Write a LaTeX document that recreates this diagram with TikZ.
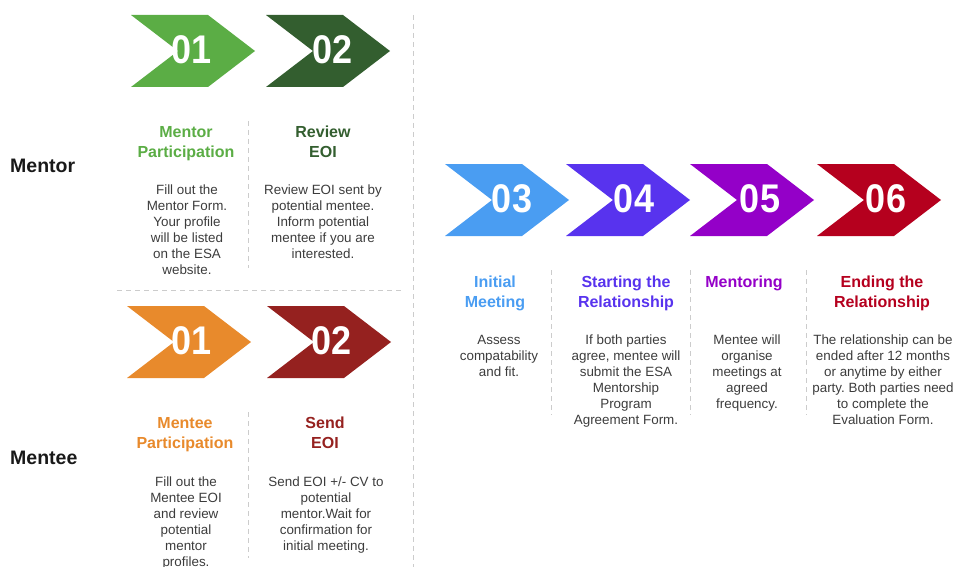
\documentclass[tikz,border=0pt]{standalone}
\usepackage{fontspec}
\setmainfont{Liberation Sans}
\newfontfamily\numfont[FakeStretch=0.9]{Liberation Sans}

\definecolor{mentorgreen}{HTML}{5BAD45}
\definecolor{reviewgreen}{HTML}{335E2F}
\definecolor{menteeorange}{HTML}{E88A2C}
\definecolor{sendred}{HTML}{95211F}
\definecolor{initialblue}{HTML}{4A9DF2}
\definecolor{startviolet}{HTML}{5833EE}
\definecolor{mentoringpurple}{HTML}{9400C8}
\definecolor{endingred}{HTML}{B5001E}
\definecolor{bodygray}{HTML}{3C3C3C}

\tikzset{
  stepnum/.style={text=white, inner sep=0pt, font=\numfont\bfseries\fontsize{40}{40}\selectfont},
  steptitle/.style={anchor=north, inner sep=0pt, align=center, font=\bfseries\fontsize{16}{20}\selectfont},
  stepbody/.style={anchor=north, inner sep=0pt, align=center, text=bodygray, font=\fontsize{13.4}{16}\selectfont},
  rolelabel/.style={anchor=west, inner sep=0pt, text=black!90, font=\bfseries\fontsize{19.5}{20}\selectfont},
  divider/.style={draw=gray!40, line width=0.9pt, dash pattern=on 5pt off 4pt}
}

\begin{document}
\frenchspacing
\begin{tikzpicture}[x=1pt, y=-1pt]

% Fix the frame to the reference size
\useasboundingbox (0,0) rectangle (958,567);

% Dashed dividers
\draw[divider] (413,15) -- (413,567);      % splits the two roles from the shared steps
\draw[divider] (117,290.5) -- (404,290.5); % mentor above, mentee below
\draw[divider] (248,121) -- (248,268);
\draw[divider] (248,412) -- (248,558);
\draw[divider] (551,270) -- (551,415);
\draw[divider] (690,270) -- (690,415);
\draw[divider] (806,270) -- (806,415);

% Role labels
\node[rolelabel] (mentorRole) at (10,166) {Mentor};
\node[rolelabel] (menteeRole) at (10,458) {Mentee};

% Mentor chevrons
\fill[mentorgreen] (131,15) -- ++(77,0) -- ++(47,36) -- ++(-47,36) -- ++(-77,0) -- ++(47,-36) -- cycle;
\fill[reviewgreen] (266,15) -- ++(77,0) -- ++(47,36) -- ++(-47,36) -- ++(-77,0) -- ++(47,-36) -- cycle;
\node[stepnum] (mentorNum1) at (192,49.5) {01};
\node[stepnum] (mentorNum2) at (333,49.5) {02};

% Mentor steps
\node[steptitle, text=mentorgreen] (mentorTitle1) at (186,126) {Mentor\\Participation};
\node[stepbody] (mentorBody1) at (187,185) {Fill out the\\Mentor Form.\\Your profile\\will be listed\\on the ESA\\website.};
\node[steptitle, text=reviewgreen] (mentorTitle2) at (323,126) {Review\\EOI};
\node[stepbody] (mentorBody2) at (323,185) {Review EOI sent by\\potential mentee.\\Inform potential\\mentee if you are\\interested.};

% Mentee chevrons
\fill[menteeorange] (127,306) -- ++(77,0) -- ++(47,36) -- ++(-47,36) -- ++(-77,0) -- ++(47,-36) -- cycle;
\fill[sendred] (267,306) -- ++(77,0) -- ++(47,36) -- ++(-47,36) -- ++(-77,0) -- ++(47,-36) -- cycle;
\node[stepnum] (menteeNum1) at (192,341) {01};
\node[stepnum] (menteeNum2) at (332,341) {02};

% Mentee steps
\node[steptitle, text=menteeorange] (menteeTitle1) at (185,417) {Mentee\\Participation};
\node[stepbody] (menteeBody1) at (186,477) {Fill out the\\Mentee EOI\\and review\\potential\\mentor\\profiles.};
\node[steptitle, text=sendred] (menteeTitle2) at (325,417) {Send\\EOI};
\node[stepbody] (menteeBody2) at (326,477) {Send EOI +/- CV to\\potential\\mentor.Wait for\\confirmation for\\initial meeting.};

% Shared chevrons 03 to 06
\fill[initialblue] (445,164) -- ++(77,0) -- ++(47,36) -- ++(-47,36) -- ++(-77,0) -- ++(47,-36) -- cycle;
\fill[startviolet] (566,164) -- ++(77,0) -- ++(47,36) -- ++(-47,36) -- ++(-77,0) -- ++(47,-36) -- cycle;
\fill[mentoringpurple] (690,164) -- ++(77,0) -- ++(47,36) -- ++(-47,36) -- ++(-77,0) -- ++(47,-36) -- cycle;
\fill[endingred] (817,164) -- ++(77,0) -- ++(47,36) -- ++(-47,36) -- ++(-77,0) -- ++(47,-36) -- cycle;
\node[stepnum] (sharedNum3) at (512,198.5) {03};
\node[stepnum] (sharedNum4) at (634,198.5) {04};
\node[stepnum] (sharedNum5) at (760,198.5) {05};
\node[stepnum] (sharedNum6) at (886,198.5) {06};

% Shared steps
\node[steptitle, text=initialblue] (sharedTitle3) at (495,276) {Initial\\Meeting};
\node[stepbody] (sharedBody3) at (499,335) {Assess\\compatability\\and fit.};
\node[steptitle, text=startviolet] (sharedTitle4) at (626,276) {Starting the\\Relationship};
\node[stepbody] (sharedBody4) at (626,335) {If both parties\\agree, mentee will\\submit the ESA\\Mentorship\\Program\\Agreement Form.};
\node[steptitle, text=mentoringpurple] (sharedTitle5) at (744,276) {Mentoring};
\node[stepbody] (sharedBody5) at (747,335) {Mentee will\\organise\\meetings at\\agreed\\frequency.};
\node[steptitle, text=endingred] (sharedTitle6) at (882,276) {Ending the\\Relationship};
\node[stepbody] (sharedBody6) at (883,335) {The relationship can be\\ended after 12 months\\or anytime by either\\party. Both parties need\\to complete the\\Evaluation Form.};

\end{tikzpicture}
\end{document}
